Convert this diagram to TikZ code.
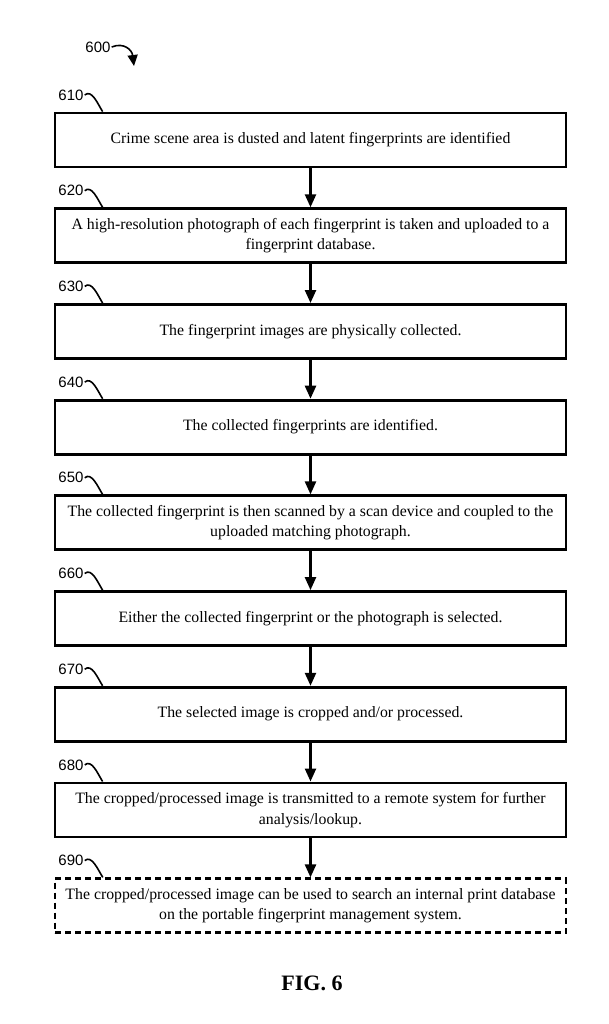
\documentclass[tikz,border=0pt]{standalone}
\usepackage{fontspec}
\setmainfont{Liberation Serif}
\newfontfamily\lblfont{Liberation Sans}
\usepackage{tikz}
\usetikzlibrary{arrows.meta}

\tikzset{
  stepbox/.style={draw, line width=2.8pt, minimum width=511pt, minimum height=54pt,
    align=center, font=\fontsize{15.8}{20.5}\selectfont, inner sep=0pt},
  dashbox/.style={stepbox, dashed, dash pattern=on 6pt off 4pt, line width=2.4pt},
  reflbl/.style={font=\lblfont\fontsize{15}{15}\selectfont, inner sep=1pt},
  flow/.style={line width=2.4pt, -{Triangle[width=11pt,length=13pt]}},
  hook/.style={line width=1.6pt}
}

\begin{document}
\begin{tikzpicture}[x=1pt,y=-1pt]
\useasboundingbox (0,0) rectangle (609,1024);

\node[reflbl] (l600) at (98,47) {600};
\coordinate (a600) at (134,66);
\draw[hook, -{Triangle[width=10pt,length=11pt]}] (l600.east) .. controls (124,42) and (132,50) .. (a600);

\node[stepbox] (s610) at (310.5,140) {Crime scene area is dusted and latent fingerprints are identified};
\node[stepbox] (s620) at (310.5,235.7) {A high-resolution photograph of each fingerprint is taken and uploaded to a\\fingerprint database.};
\node[stepbox] (s630) at (310.5,331.4) {The fingerprint images are physically collected.};
\node[stepbox] (s640) at (310.5,427.1) {The collected fingerprints are identified.};
\node[stepbox] (s650) at (310.5,522.8) {The collected fingerprint is then scanned by a scan device and coupled to the\\uploaded matching photograph.};
\node[stepbox] (s660) at (310.5,618.5) {Either the collected fingerprint or the photograph is selected.};
\node[stepbox] (s670) at (310.5,714.2) {The selected image is cropped and/or processed.};
\node[stepbox] (s680) at (310.5,809.9) {The cropped/processed image is transmitted to a remote system for further\\analysis/lookup.};
\node[dashbox] (s690) at (310.5,905.6) {The cropped/processed image can be used to search an internal print database\\on the portable fingerprint management system.};

\node[reflbl] (l610) at (71,95) {610};
\node[reflbl] (l620) at (71,190.7) {620};
\node[reflbl] (l630) at (71,286.4) {630};
\node[reflbl] (l640) at (71,382.1) {640};
\node[reflbl] (l650) at (71,477.8) {650};
\node[reflbl] (l660) at (71,573.5) {660};
\node[reflbl] (l670) at (71,669.2) {670};
\node[reflbl] (l680) at (71,764.9) {680};
\node[reflbl] (l690) at (71,860.6) {690};

\draw[hook] (l610.east) .. controls +(7,-6) and +(-5,-8) .. ([xshift=49pt]s610.north west);
\draw[hook] (l620.east) .. controls +(7,-6) and +(-5,-8) .. ([xshift=49pt]s620.north west);
\draw[hook] (l630.east) .. controls +(7,-6) and +(-5,-8) .. ([xshift=49pt]s630.north west);
\draw[hook] (l640.east) .. controls +(7,-6) and +(-5,-8) .. ([xshift=49pt]s640.north west);
\draw[hook] (l650.east) .. controls +(7,-6) and +(-5,-8) .. ([xshift=49pt]s650.north west);
\draw[hook] (l660.east) .. controls +(7,-6) and +(-5,-8) .. ([xshift=49pt]s660.north west);
\draw[hook] (l670.east) .. controls +(7,-6) and +(-5,-8) .. ([xshift=49pt]s670.north west);
\draw[hook] (l680.east) .. controls +(7,-6) and +(-5,-8) .. ([xshift=49pt]s680.north west);
\draw[hook] (l690.east) .. controls +(7,-6) and +(-5,-8) .. ([xshift=49pt]s690.north west);

\draw[flow] (s610) -- (s620);
\draw[flow] (s620) -- (s630);
\draw[flow] (s630) -- (s640);
\draw[flow] (s640) -- (s650);
\draw[flow] (s650) -- (s660);
\draw[flow] (s660) -- (s670);
\draw[flow] (s670) -- (s680);
\draw[flow] (s680) -- (s690);

\node[font=\bfseries\fontsize{22}{22}\selectfont] (fig) at (312,983) {FIG. 6};

\end{tikzpicture}
\end{document}
